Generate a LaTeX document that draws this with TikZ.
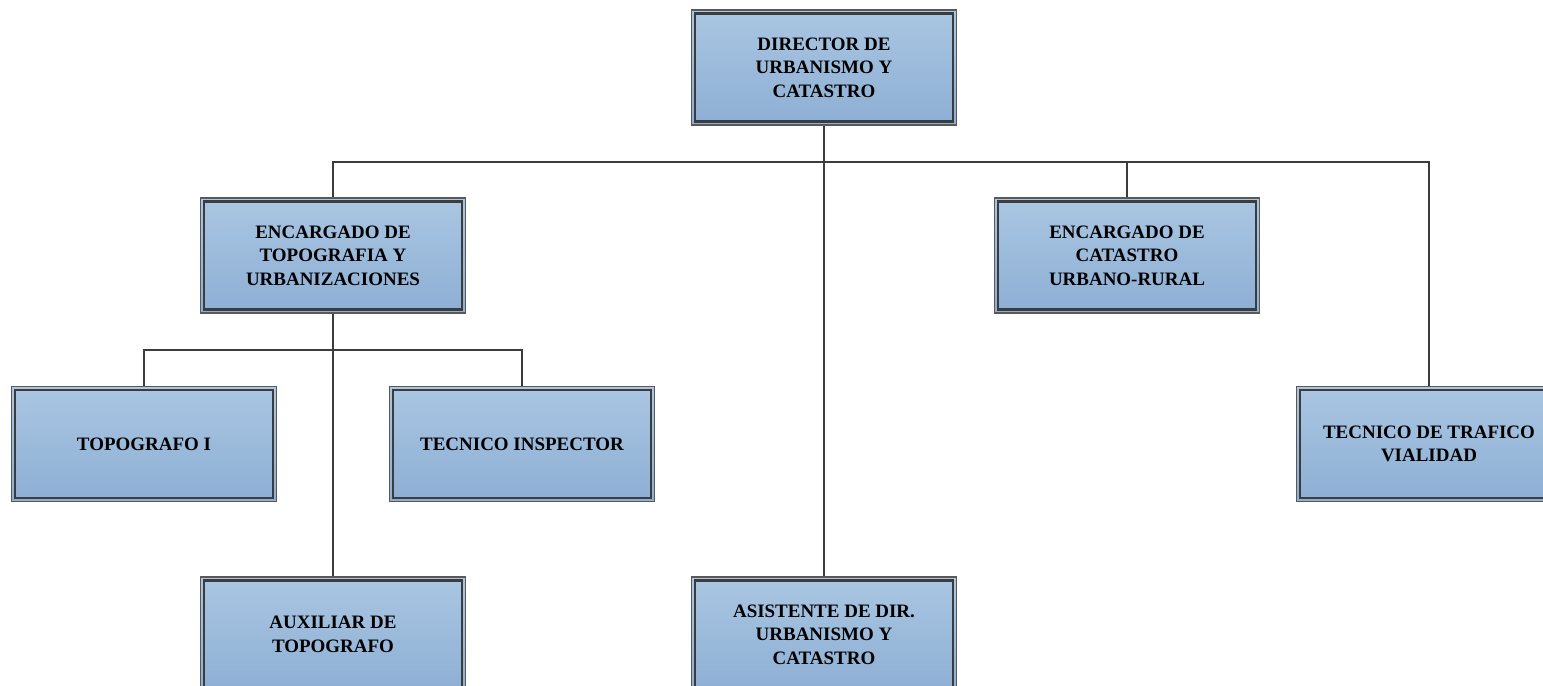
\documentclass[tikz,border=0pt]{standalone}
\usepackage{fontspec}
\setmainfont{Liberation Serif}
\definecolor{boxtop}{HTML}{AAC6E2}
\definecolor{boxbot}{HTML}{8DAFD4}
\definecolor{edge}{HTML}{3C3C3C}
\begin{document}
\begin{tikzpicture}[x=0.02cm, y=-0.02cm,
    cargo/.style={rectangle, minimum width=5.3cm, minimum height=2.3cm,
      top color=boxtop, bottom color=boxbot, draw=edge!85, line width=0.7pt,
      align=center, inner sep=0pt,
      font=\bfseries\fontsize{10.8}{13.4}\selectfont},
    linea/.style={draw=edge, line width=1.2pt}]
      \useasboundingbox (0,0) rectangle (1543,686);

      \node[cargo] (DirN)     at (824,67.5)    {DIRECTOR DE\\URBANISMO Y\\CATASTRO};

      \node[cargo] (TopoN)    at (333,255.5)   {ENCARGADO DE\\TOPOGRAFIA Y\\URBANIZACIONES};
      \node[cargo] (CatN)     at (1127,255.5)  {ENCARGADO DE\\CATASTRO\\URBANO-RURAL};

      \node[cargo] (TopoIN)   at (144,444)     {TOPOGRAFO I};
      \node[cargo] (InspN)    at (522,444)     {TECNICO INSPECTOR};
      \node[cargo] (TrafN)    at (1429,444)    {TECNICO DE TRAFICO\\VIALIDAD};

      \node[cargo] (AuxN)     at (333,634.5)   {AUXILIAR DE\\TOPOGRAFO};
      \node[cargo] (AsisN)    at (824,634.5)   {ASISTENTE DE DIR.\\URBANISMO Y\\CATASTRO};

      % inner frame of every box
      \foreach \n in {DirN,TopoN,CatN,TopoIN,InspN,TrafN,AuxN,AsisN}
        \draw[edge, line width=1.3pt]
          ([xshift=0.08cm,yshift=0.08cm]\n.south west) rectangle
          ([xshift=-0.08cm,yshift=-0.08cm]\n.north east);

      \coordinate (busA) at (824,162);
      \coordinate (busB) at (333,350);

      \draw[linea] (DirN.south)  -- (AsisN.north);
      \draw[linea] (TopoN.north) |- (busA) -| (TrafN.north);
      \draw[linea] (CatN.north)  -- (CatN.north |- busA);

      \draw[linea] (TopoN.south) -- (AuxN.north);
      \draw[linea] (TopoIN.north) |- (busB) -| (InspN.north);
    \end{tikzpicture}
\end{document}
